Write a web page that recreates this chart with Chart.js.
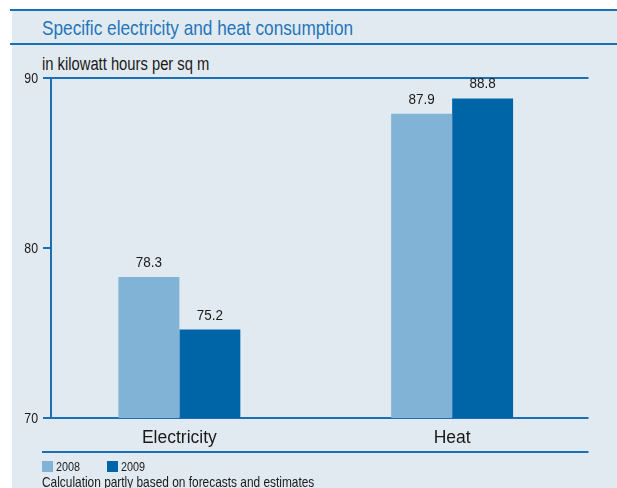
<!DOCTYPE html>
<html>
<head>
<meta charset="utf-8">
<script src="https://cdn.jsdelivr.net/npm/chart.js@4.4.1/dist/chart.umd.min.js"></script>
<style>
  html, body { margin: 0; padding: 0; background: #ffffff; }
  body { width: 617px; height: 488px; position: relative; overflow: hidden;
         font-family: 'Liberation Sans', Arial, sans-serif; }
  #bg { position: absolute; left: 12px; top: 10px; width: 605px; height: 478px; background: #e2eaf1; }
  .hline { position: absolute; height: 2px; background: #1b6fb4; }
  .txt { position: absolute; white-space: nowrap; transform-origin: 0 0; color: #1a1a1a; }
  #title { left: 42px; top: 16px; font-size: 21px; line-height: 24px; color: #1f76bb; transform: scaleX(0.82); }
  #unit { left: 42px; top: 54px; font-size: 18px; line-height: 20px; transform: scaleX(0.82); }
  .leg { top: 459px; font-size: 13.5px; line-height: 15px; transform: scaleX(0.8); }
  .sw { position: absolute; top: 461px; width: 11px; height: 11px; }
  #note { left: 42px; top: 475px; font-size: 14.5px; line-height: 15px; transform: scaleX(0.82); }
  #c { position: absolute; left: 0; top: 0; }
</style>
</head>
<body>
<div id="bg"></div>
<div class="hline" style="left:10px; top:9px; width:607px;"></div>
<div class="hline" style="left:10px; top:43px; width:607px;"></div>
<div id="title" class="txt">Specific electricity and heat consumption</div>
<div id="unit" class="txt">in kilowatt hours per sq m</div>
<canvas id="c" width="617" height="488"></canvas>
<div id="sw0" class="sw" style="left:42px;"></div>
<div id="lg0" class="txt leg" style="left:56px;"></div>
<div id="sw1" class="sw" style="left:107px;"></div>
<div id="lg1" class="txt leg" style="left:121px;"></div>
<div id="note" class="txt">Calculation partly based on forecasts and estimates</div>
<script>
// ---- data ----
const categories = ['Electricity', 'Heat'];
const seriesNames = ['2008', '2009'];
const values2008 = [78.3, 87.9];
const values2009 = [75.2, 88.8];
const valueLabels2008 = ['78.3', '87.9'];
const valueLabels2009 = ['75.2', '88.8'];
const yTicks = [70, 80, 90];
const yTickLabels = ['70', '80', '90'];

const FONT = "'Liberation Sans', Arial, sans-serif";
const LIGHT = '#80b3d5';
const DARK = '#0065a7';
const LINE = '#1b6fb4';
const TEXT = '#1a1a1a';

// legend (HTML text)
document.getElementById('sw0').style.background = LIGHT;
document.getElementById('sw1').style.background = DARK;
document.getElementById('lg0').textContent = seriesNames[0];
document.getElementById('lg1').textContent = seriesNames[1];

const labelSets = [valueLabels2008, valueLabels2009];

function squeezedText(ctx, text, x, y, sx, align) {
  ctx.save();
  ctx.translate(x, y);
  ctx.scale(sx, 1);
  ctx.textAlign = align;
  ctx.fillText(text, 0, 0);
  ctx.restore();
}

const decor = {
  id: 'decor',
  beforeDatasetsDraw(chart) {
    const { ctx, chartArea, scales } = chart;
    const y = scales.y;
    const axisX = chartArea.left + 7;
    const right = chartArea.right;
    ctx.save();
    ctx.fillStyle = LINE;
    const yTop = y.getPixelForValue(yTicks[yTicks.length - 1]);
    const yBot = y.getPixelForValue(yTicks[0]);
    ctx.fillRect(axisX, yTop - 1, 2, yBot - yTop + 2);
    yTicks.forEach(t => {
      const py = y.getPixelForValue(t);
      ctx.fillRect(chartArea.left, py - 1, 7, 2);
    });
    ctx.fillRect(axisX, yTop - 1, right - axisX, 2);
    ctx.fillRect(axisX, yBot - 1, right - axisX, 2);
    ctx.fillRect(42, 451, right - 42, 2);
    // y tick labels
    ctx.fillStyle = TEXT;
    ctx.font = '14.5px ' + FONT;
    ctx.textBaseline = 'middle';
    yTicks.forEach((t, i) => {
      squeezedText(ctx, yTickLabels[i], chartArea.left - 5, y.getPixelForValue(t) + 0.5, 0.85, 'right');
    });
    ctx.restore();
  },
  afterDatasetsDraw(chart) {
    const { ctx } = chart;
    ctx.save();
    ctx.font = '15.5px ' + FONT;
    ctx.fillStyle = TEXT;
    ctx.textBaseline = 'alphabetic';
    chart.data.datasets.forEach((ds, di) => {
      const meta = chart.getDatasetMeta(di);
      meta.data.forEach((bar, i) => {
        squeezedText(ctx, labelSets[di][i], bar.x, bar.y - 10, 0.87, 'center');
      });
    });
    ctx.restore();
  }
};

new Chart(document.getElementById('c'), {
  type: 'bar',
  data: {
    labels: categories,
    datasets: [
      { label: seriesNames[0], data: values2008, backgroundColor: LIGHT, borderWidth: 0,
        barPercentage: 1, categoryPercentage: 0.447 },
      { label: seriesNames[1], data: values2009, backgroundColor: DARK, borderWidth: 0,
        barPercentage: 1, categoryPercentage: 0.447 }
    ]
  },
  options: {
    responsive: false,
    animation: false,
    devicePixelRatio: 1,
    layout: { padding: { top: 78, bottom: 36, left: 0, right: 28.5 } },
    plugins: { legend: { display: false }, tooltip: { enabled: false }, title: { display: false } },
    scales: {
      x: {
        grid: { display: false, drawTicks: false },
        border: { display: false },
        ticks: { font: { family: FONT, size: 17.5 }, color: TEXT, padding: 10 },
        afterFit(scale) { scale.height = 34; }
      },
      y: {
        min: 70, max: 90,
        grid: { display: false, drawTicks: false },
        border: { display: false },
        ticks: { display: false },
        afterFit(scale) { scale.width = 43; }
      }
    }
  },
  plugins: [decor]
});
</script>
</body>
</html>
